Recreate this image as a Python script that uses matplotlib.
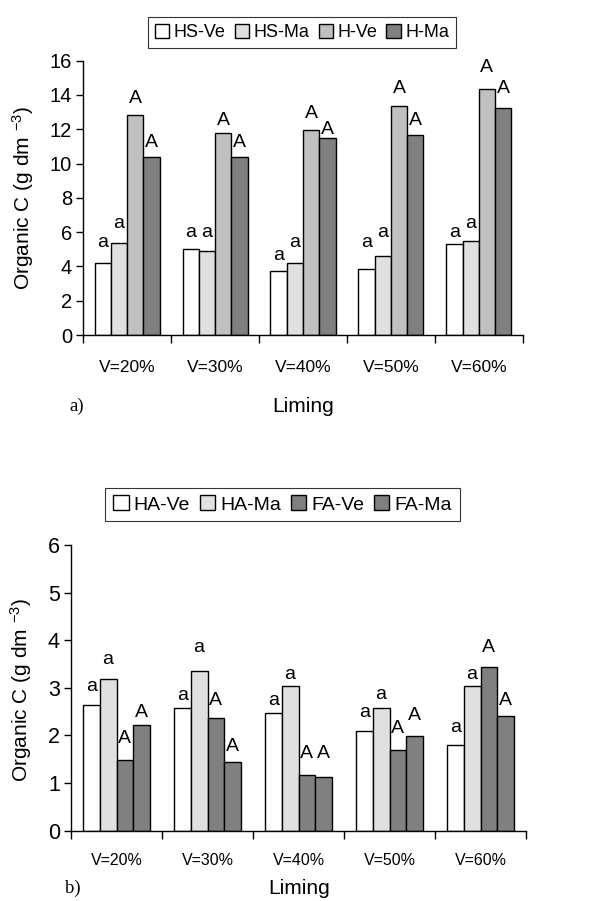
import matplotlib
matplotlib.use("Agg")
import matplotlib.pyplot as plt
import numpy as np
from matplotlib.patches import Patch

plt.rcParams["font.family"] = ["Liberation Sans", "DejaVu Sans"]
plt.rcParams["mathtext.fontset"] = "custom"
plt.rcParams["mathtext.rm"] = "Liberation Sans"
plt.rcParams["mathtext.it"] = "Liberation Sans"

categories = ["V=20%", "V=30%", "V=40%", "V=50%", "V=60%"]

# panel a) values (g dm-3)
series_a = ["HS-Ve", "HS-Ma", "H-Ve", "H-Ma"]
hs_ve = [4.21, 4.99, 3.71, 3.83, 5.28]
hs_ma = [5.38, 4.89, 4.21, 4.60, 5.48]
h_ve = [12.85, 11.79, 11.96, 13.34, 14.33]
h_ma = [10.41, 10.41, 11.48, 11.69, 13.26]
# letter heights above bars (a)
lab_a_y = [
    [4.89, 5.48, 4.16, 4.89, 5.48],
    [6.00, 5.48, 4.89, 5.48, 6.00],
    [13.28, 12.00, 12.45, 13.90, 15.09],
    [10.76, 10.76, 11.48, 12.02, 13.90],
]
lab_a = ["a", "a", "A", "A"]

# panel b) values (g dm-3)
series_b = ["HA-Ve", "HA-Ma", "FA-Ve", "FA-Ma"]
ha_ve = [2.65, 2.58, 2.48, 2.09, 1.81]
ha_ma = [3.18, 3.36, 3.04, 2.58, 3.04]
fa_ve = [1.48, 2.37, 1.17, 1.70, 3.43]
fa_ma = [2.23, 1.45, 1.13, 1.98, 2.41]
lab_b_y = [
    [2.86, 2.66, 2.55, 2.30, 1.99],
    [3.42, 3.67, 3.11, 2.69, 3.11],
    [1.75, 2.55, 1.45, 1.97, 3.67],
    [2.31, 1.59, 1.45, 2.25, 2.55],
]
lab_b = ["a", "a", "A", "A"]

colors_a = ["#ffffff", "#e0e0e0", "#c0c0c0", "#808080"]
colors_b = ["#ffffff", "#e0e0e0", "#808080", "#808080"]

W, H = 600, 901
fig = plt.figure(figsize=(W / 100, H / 100), dpi=100)


def px_rect(x0, x1, ytop, ybot):
    return [x0 / W, 1 - ybot / H, (x1 - x0) / W, (ybot - ytop) / H]


def panel(ax, data, names, colors, lab_y, labs, ymax, ystep, fs, xfs, xpad):
    n = len(categories)
    w = 0.185
    x = np.arange(n) + 0.5
    for i, vals in enumerate(data):
        off = (i - 1.5) * w
        ax.bar(x + off, vals, width=w, color=colors[i], edgecolor="black",
               linewidth=1.0, label=names[i], zorder=2)
        for j in range(n):
            ax.text(x[j] + off, lab_y[i][j], labs[i], ha="center", va="bottom",
                    fontsize=14, zorder=3)
    ax.set_xlim(0, n)
    ax.set_ylim(0, ymax)
    ax.set_yticks(np.arange(0, ymax + 0.01, ystep))
    ax.set_xticks(np.arange(0, n + 1))
    ax.set_xticklabels([])
    ax.set_xticks(x, minor=True)
    ax.set_xticklabels(categories, minor=True, fontsize=xfs)
    ax.tick_params(axis="x", which="minor", length=0, pad=xpad)
    ax.tick_params(axis="x", which="major", direction="out", length=6, width=1)
    ax.tick_params(axis="y", direction="out", length=5, width=1, labelsize=fs, pad=3)
    for s in ["top", "right"]:
        ax.spines[s].set_visible(False)
    for s in ["left", "bottom"]:
        ax.spines[s].set_linewidth(1.0)
    ax.set_ylabel("Organic C (g dm $^{-3}$)", fontsize=15)


def add_legend(names, colors, center, fs):
    handles = [Patch(facecolor=c, edgecolor="black", linewidth=1.0) for c in colors]
    leg = fig.legend(handles, names, loc="center", bbox_to_anchor=center, ncol=4,
                     fontsize=fs, frameon=True, fancybox=False, edgecolor="black",
                     handlelength=0.8, handleheight=0.8, handletextpad=0.25,
                     columnspacing=0.5, borderpad=0.4)
    leg.get_frame().set_linewidth(0.8)


# panel a
ax1 = fig.add_axes(px_rect(83.3, 522.7, 60.7, 335))
panel(ax1, [hs_ve, hs_ma, h_ve, h_ma], series_a, colors_a, lab_a_y, lab_a,
      16, 2, 14.5, 12.5, 18)
ax1.yaxis.set_label_coords(36 / W, 1 - 198 / H, transform=fig.transFigure)
add_legend(series_a, colors_a, (302 / W, 1 - 32.5 / H), 13)
fig.text(303 / W, 1 - 407 / H, "Liming", ha="center", va="center", fontsize=15)
fig.text(77 / W, 1 - 406 / H, "a)", ha="center", va="center", fontsize=13.5,
         family="Liberation Serif")

# panel b
ax2 = fig.add_axes(px_rect(71, 526, 545, 830.7))
panel(ax2, [ha_ve, ha_ma, fa_ve, fa_ma], series_b, colors_b, lab_b_y, lab_b,
      6, 1, 15.5, 11.5, 16)
ax2.yaxis.set_label_coords(34 / W, 1 - 690 / H, transform=fig.transFigure)
add_legend(series_b, colors_b, (282.5 / W, 1 - 504.5 / H), 14)
fig.text(299 / W, 1 - 889 / H, "Liming", ha="center", va="center", fontsize=15)
fig.text(73 / W, 1 - 888 / H, "b)", ha="center", va="center", fontsize=13.5,
         family="Liberation Serif")

fig.savefig("out.png", dpi=100)
